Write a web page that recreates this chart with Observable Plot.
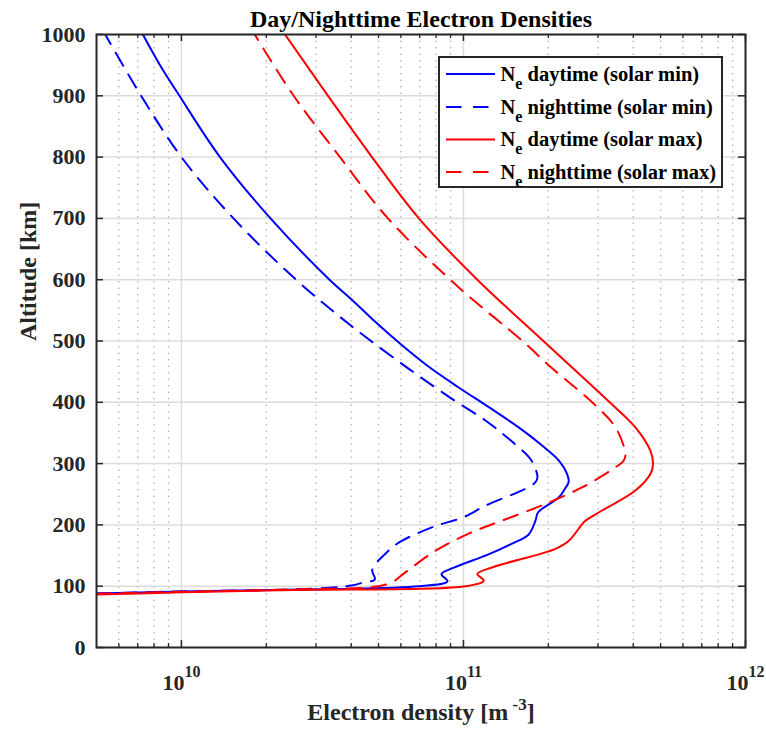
<!DOCTYPE html>
<html>
<head>
<meta charset="utf-8">
<script src="https://cdn.jsdelivr.net/npm/d3@7"></script>
<script src="https://cdn.jsdelivr.net/npm/@observablehq/plot@0.6"></script>
<style>
  body { margin: 0; background: #fff; }
  #wrap { position: relative; width: 766px; height: 730px; }
  #legend { position: absolute; left: 438px; top: 56px; }
</style>
</head>
<body>
<div id="wrap"></div>
<script>
// ---- data (altitude in km, electron density in m^-3) ----
const altDayMin = [88, 91.5, 94.5, 99.7, 107.8, 119.8, 130.7, 151.5, 169, 184, 207, 220.6, 245, 259, 270, 283.4, 305, 329.5, 359, 392, 425.8, 460, 492.5, 530, 567, 600, 700, 800, 900, 950, 1000];
const neDayMin  = [5e9, 1e10, 2.67e10, 6.7e10, 8.78e10, 8.36e10, 9.3e10, 1.22e11, 1.48e11, 1.70e11, 1.80e11, 1.84e11, 2.18e11, 2.29e11, 2.36e11, 2.33e11, 2.18e11, 1.90e11, 1.57e11, 1.23e11, 9.5e10, 7.43e10, 6.07e10, 4.9e10, 4.03e10, 3.35e10, 2.07e10, 1.37e10, 9.84e9, 8.4e9, 7.3e9];

const altNightMin = [88, 91.5, 95, 101, 106, 111, 127, 157, 173, 197.7, 212.6, 231.6, 259, 269.7, 277.8, 291.5, 310, 340, 370, 405.7, 454.6, 523.6, 600, 700, 800, 900, 1000];
const neNightMin  = [5e9, 1e10, 2.6e10, 4.0e10, 4.4e10, 4.85e10, 4.75e10, 5.4e10, 6.0e10, 7.9e10, 1.0e11, 1.20e11, 1.66e11, 1.80e11, 1.83e11, 1.80e11, 1.71e11, 1.45e11, 1.20e11, 9.1e10, 6.4e10, 4.03e10, 2.55e10, 1.53e10, 1.0e10, 7.2e9, 5.37e9];

const altDayMax = [86.5, 90, 94, 100, 109, 120, 131, 161, 174.5, 201.8, 207, 223.5, 256, 283, 299.5, 321, 359, 400, 500, 600, 700, 800, 900, 1000];
const neDayMax  = [5e9, 1e10, 2.5e10, 1.02e11, 1.18e11, 1.12e11, 1.27e11, 2.12e11, 2.37e11, 2.64e11, 2.71e11, 3.1e11, 4.07e11, 4.6e11, 4.7e11, 4.6e11, 4.07e11, 3.3e11, 1.92e11, 1.12e11, 6.95e10, 4.74e10, 3.31e10, 2.33e10];

const altNightMax = [87.5, 91, 95, 99, 106.5, 123, 158, 185.5, 207, 234, 261.5, 294, 305, 316, 359, 400, 460, 500, 587.8, 700, 800, 900, 1000];
const neNightMax  = [5e9, 1e10, 2.6e10, 4.8e10, 5.58e10, 6.24e10, 7.97e10, 1.04e11, 1.37e11, 1.95e11, 2.64e11, 3.46e11, 3.7e11, 3.75e11, 3.46e11, 2.86e11, 2.01e11, 1.62e11, 9.6e10, 5.4e10, 3.65e10, 2.5e10, 1.82e10];

const seriesNames  = ["daytime (solar min)", "nighttime (solar min)", "daytime (solar max)", "nighttime (solar max)"];
const seriesColors = ["#0000ff", "#0000ff", "#ff0000", "#ff0000"];
const seriesDashed = [false, true, false, true];

const yTicks  = [0, 100, 200, 300, 400, 500, 600, 700, 800, 900, 1000];
const xMajor  = [1e10, 1e11, 1e12];
const xMinor  = [6e9, 7e9, 8e9, 9e9, 2e10, 3e10, 4e10, 5e10, 6e10, 7e10, 8e10, 9e10, 2e11, 3e11, 4e11, 5e11, 6e11, 7e11, 8e11, 9e11];

const titleText = "Day/Nighttime Electron Densities";
const yLabel = "Altitude [km]";
const xLabel = "Electron density [m";

// ---- build ----
const W = 766, H = 730, mL = 96, mR = 21, mT = 34, mB = 83;
const innerW = W - mL - mR, innerH = H - mT - mB;
const toRows = (alts, nes) => alts.map((a, i) => ({alt: a, ne: nes[i]}));
const series = [toRows(altDayMin, neDayMin), toRows(altNightMin, neNightMin), toRows(altDayMax, neDayMax), toRows(altNightMax, neNightMax)];
const dash = "15,10";
const axisColor = "#262626";

const lineMarks = series.map((rows, i) => Plot.line(rows, {
  x: "ne", y: "alt", stroke: seriesColors[i], strokeWidth: 2,
  strokeDasharray: seriesDashed[i] ? dash : null, curve: "catmull-rom", clip: true
}));

const chart = Plot.plot({
  width: W, height: H,
  marginLeft: mL, marginRight: mR, marginTop: mT, marginBottom: mB,
  style: {fontFamily: "'Liberation Serif', 'Times New Roman', serif", fontWeight: "bold", color: axisColor, background: "#fff"},
  x: {type: "log", domain: [5e9, 1e12]},
  y: {domain: [0, 1000]},
  marks: [
    Plot.ruleX(xMinor, {stroke: "#b5b5b5", strokeWidth: 1.3, strokeDasharray: "1.5,5"}),
    Plot.ruleY(yTicks, {stroke: "#dcdcdc", strokeWidth: 1.5}),
    Plot.ruleX(xMajor, {stroke: "#dcdcdc", strokeWidth: 1.5}),
    ...lineMarks,
    Plot.frame({stroke: axisColor, strokeWidth: 2}),
    Plot.tickY(yTicks, {stroke: axisColor, strokeWidth: 1.5, insetRight: innerW - 7}),
    Plot.tickY(yTicks, {stroke: axisColor, strokeWidth: 1.5, insetLeft: innerW - 7}),
    Plot.tickX(xMajor, {stroke: axisColor, strokeWidth: 1.5, insetTop: innerH - 7}),
    Plot.tickX(xMajor, {stroke: axisColor, strokeWidth: 1.5, insetBottom: innerH - 7}),
    Plot.tickX(xMinor, {stroke: axisColor, strokeWidth: 1.3, insetTop: innerH - 4}),
    Plot.tickX(xMinor, {stroke: axisColor, strokeWidth: 1.3, insetBottom: innerH - 4}),
    Plot.axisY(yTicks, {anchor: "left", label: null, tickSize: 0, tickPadding: 11, fontSize: 22, tickFormat: d => String(d)}),
    Plot.axisX(xMajor, {anchor: "bottom", label: null, tickSize: 0, tickPadding: 27, fontSize: 22, tickFormat: d => "10^" + Math.round(Math.log10(d))}),
    Plot.text([titleText], {frameAnchor: "top", dy: -8, lineAnchor: "bottom", fontSize: 24, fill: "#000"}),
    Plot.text([yLabel], {frameAnchor: "left", dx: -68, rotate: -90, lineAnchor: "middle", fontSize: 24}),
    Plot.text([xLabel], {frameAnchor: "bottom", dy: 65, lineAnchor: "middle", fontSize: 24})
  ]
});

// superscripts on x tick labels and x label
d3.select(chart).selectAll('g[aria-label="x-axis tick label"] text').each(function() {
  const t = d3.select(this);
  const [b, e] = t.text().split("^");
  t.text(null);
  t.append("tspan").text(b);
  t.append("tspan").attr("dy", -13).attr("font-size", 16).text(e);
});
d3.select(chart).selectAll("text").filter(function() { return this.textContent === xLabel; }).each(function() {
  const t = d3.select(this);
  t.text(null);
  t.append("tspan").text(xLabel);
  t.append("tspan").attr("dy", -10).attr("font-size", 17).text(" -3");
  t.append("tspan").attr("dy", 10).text("]");
});

const wrap = document.getElementById("wrap");
wrap.appendChild(chart);

// legend
const lg = d3.select(wrap).append("svg").attr("id", "legend")
  .attr("width", 286).attr("height", 133)
  .style("font-family", "'Liberation Serif', 'Times New Roman', serif").style("font-weight", "bold");
lg.append("rect").attr("x", 1).attr("y", 1).attr("width", 283).attr("height", 130)
  .attr("fill", "#fff").attr("stroke", axisColor).attr("stroke-width", 2);
const rowY = [18, 51, 83.5, 116];
seriesNames.forEach((name, i) => {
  lg.append("line").attr("x1", 8).attr("x2", 57).attr("y1", rowY[i]).attr("y2", rowY[i])
    .attr("stroke", seriesColors[i]).attr("stroke-width", 2)
    .attr("stroke-dasharray", seriesDashed[i] ? "15.5,11.5" : null);
  const t = lg.append("text").attr("x", 62.5).attr("y", rowY[i] + 6.5).attr("font-size", 20.5).attr("fill", "#000");
  t.append("tspan").text("N");
  t.append("tspan").attr("dy", 8).attr("font-size", 16).text("e");
  t.append("tspan").attr("dy", -8).text(" " + name);
});
</script>
</body>
</html>
